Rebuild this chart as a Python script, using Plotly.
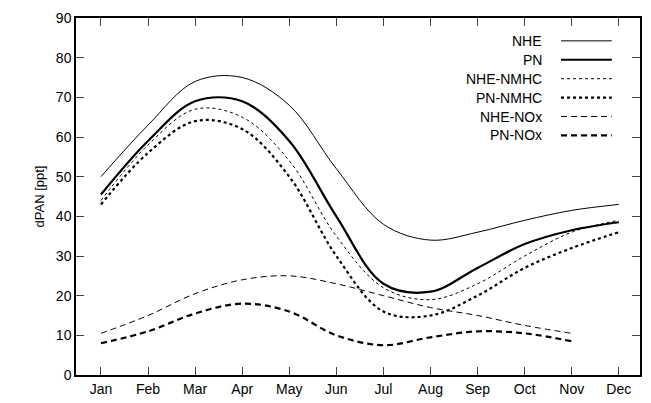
import plotly.graph_objects as go

months = ["Jan","Feb","Mar","Apr","May","Jun","Jul","Aug","Sep","Oct","Nov","Dec"]
x_idx = list(range(1, 13))
nhe = [50, 63, 74, 75, 68, 52, 38, 34, 36, 39, 41.5, 43]
pn = [45.5, 59, 69, 69, 59, 40, 23, 21, 27, 33, 36.5, 38.5]
nhe_nmhc = [44, 58, 67, 65, 54, 35, 22, 19, 23, 30, 36, 39]
pn_nmhc = [43, 56, 64, 62, 50, 30, 16, 15, 20, 27, 32, 36]
nhe_nox = [10.5, 15, 20.5, 24, 25, 23, 20, 17, 15, 12.5, 10.5]
pn_nox = [8, 11, 15.5, 18, 16, 10, 7.5, 9.5, 11, 10.5, 8.5]

series = [
    ("NHE", nhe, 1, "solid"),
    ("PN", pn, 2.2, "solid"),
    ("NHE-NMHC", nhe_nmhc, 1, "dot"),
    ("PN-NMHC", pn_nmhc, 2.2, "dot"),
    ("NHE-NOx", nhe_nox, 1, "6px,4px"),
    ("PN-NOx", pn_nox, 2.2, "6px,4px"),
]

fig = go.Figure()
shapes, annots = [], []
for i, (name, ys, w, d) in enumerate(series):
    fig.add_trace(go.Scatter(x=x_idx[:len(ys)], y=ys, mode="lines", name=name,
                             line=dict(color="black", width=w, dash=d, shape="spline", smoothing=1.0),
                             showlegend=False))
    yp = 0.936 - i * 0.053
    annots.append(dict(x=0.83, y=yp, xref="paper", yref="paper", text=name, showarrow=False,
                       xanchor="right", yanchor="middle", font=dict(size=14, color="black")))
    shapes.append(dict(type="line", xref="paper", yref="paper", x0=0.86, x1=0.95, y0=yp, y1=yp,
                       line=dict(color="black", width=w, dash=d)))

fig.update_layout(
    width=651, height=403, plot_bgcolor="white", paper_bgcolor="white",
    margin=dict(l=68, r=19, t=10, b=36, autoexpand=False),
    font=dict(family="Liberation Sans, Arial", size=14, color="black"),
    shapes=shapes, annotations=annots,
    xaxis=dict(range=[0.47, 12.45], tickvals=x_idx, ticktext=months, ticks="inside", ticklen=8,
               automargin=False, tickfont=dict(size=14),
               showline=True, mirror="ticks", linecolor="black", linewidth=1.5, showgrid=False, zeroline=False),
    yaxis=dict(range=[0, 90], dtick=10, ticks="inside", ticklen=8, automargin=False,
               title=dict(text="dPAN [ppt]", standoff=8, font=dict(size=13)),
               showline=True, mirror="ticks", linecolor="black", linewidth=1.5, showgrid=False, zeroline=False),
)
fig.write_html("out.html")
